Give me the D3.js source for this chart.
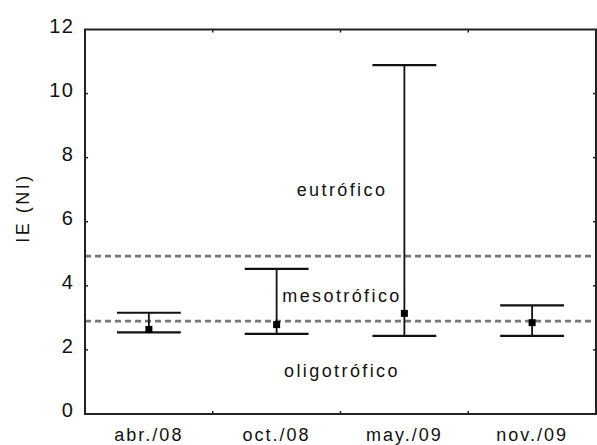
<!DOCTYPE html>
<html>
<head>
<meta charset="utf-8">
<script src="https://cdn.jsdelivr.net/npm/d3@7"></script>
<style>
  body { margin: 0; background: #fff; }
  svg text { font-family: "Liberation Sans", Arial, sans-serif; fill: #111; }
</style>
</head>
<body>
<svg id="chart" width="597" height="445"></svg>
<script>
// data
const categories = ['abr./08', 'oct./08', 'may./09', 'nov./09'];
const means = [2.64, 2.79, 3.14, 2.85];
const lows = [2.55, 2.50, 2.44, 2.44];
const highs = [3.16, 4.53, 10.89, 3.39];
const thresholds = [4.93, 2.90];
const yTicks = [0, 2, 4, 6, 8, 10, 12];
const zones = [
  { label: 'eutrófico', y: 6.8 },
  { label: 'mesotrófico', y: 3.5 },
  { label: 'oligotrófico', y: 1.15 }
];

const svg = d3.select('#chart');
const plotL = 85, plotR = 596, plotT = 29.5, plotB = 414;

const x = d3.scaleBand().domain(categories).range([plotL, plotR]).padding(0);
const y = d3.scaleLinear().domain([0, 12]).range([plotB, plotT]);

// thresholds (dashed)
svg.append('g').selectAll('line')
  .data(thresholds)
  .join('line')
  .attr('x1', plotL).attr('x2', plotR)
  .attr('y1', d => y(d)).attr('y2', d => y(d))
  .attr('stroke', '#777')
  .attr('stroke-width', 2.8)
  .attr('stroke-dasharray', '6,4');

// frame
svg.append('rect')
  .attr('x', plotL).attr('y', plotT)
  .attr('width', plotR - plotL).attr('height', plotB - plotT)
  .attr('fill', 'none').attr('stroke', '#222').attr('stroke-width', 2);

// small inward ticks
const yt = yTicks.slice(1, -1);
svg.append('g').selectAll('line').data(yt).join('line')
  .attr('x1', plotL).attr('x2', plotL + 3)
  .attr('y1', d => y(d)).attr('y2', d => y(d))
  .attr('stroke', '#222').attr('stroke-width', 1.5);
svg.append('g').selectAll('line').data(yt).join('line')
  .attr('x1', plotR).attr('x2', plotR - 3)
  .attr('y1', d => y(d)).attr('y2', d => y(d))
  .attr('stroke', '#222').attr('stroke-width', 1.5);
const xb = categories.slice(1).map(c => x(c));
svg.append('g').selectAll('line').data(xb).join('line')
  .attr('x1', d => d).attr('x2', d => d)
  .attr('y1', plotB).attr('y2', plotB - 3)
  .attr('stroke', '#222').attr('stroke-width', 1.5);
svg.append('g').selectAll('line').data(xb).join('line')
  .attr('x1', d => d).attr('x2', d => d)
  .attr('y1', plotT).attr('y2', plotT + 3)
  .attr('stroke', '#222').attr('stroke-width', 1.5);

// tick labels
svg.append('g').selectAll('text').data(yTicks).join('text')
  .attr('x', 74).attr('y', d => y(d) + 3)
  .attr('text-anchor', 'end')
  .attr('font-size', 20)
  .attr('letter-spacing', 1.2)
  .text(d => d);

svg.append('g').selectAll('text').data(categories).join('text')
  .attr('x', d => x(d) + x.bandwidth() / 2)
  .attr('y', 441)
  .attr('text-anchor', 'middle')
  .attr('font-size', 18)
  .attr('letter-spacing', 2)
  .text(d => d);

svg.append('text')
  .attr('transform', 'translate(29,208) rotate(-90)')
  .attr('text-anchor', 'middle')
  .attr('font-size', 18)
  .attr('letter-spacing', 2.5)
  .text('IE (NI)');

// zone labels
svg.append('g').selectAll('text').data(zones).join('text')
  .attr('x', 342).attr('y', d => y(d.y))
  .attr('text-anchor', 'middle')
  .attr('font-size', 18)
  .attr('letter-spacing', 2.4)
  .text(d => d.label);

// error bars
const bars = svg.append('g').selectAll('g').data(categories).join('g')
  .attr('transform', d => `translate(${x(d) + x.bandwidth() / 2},0)`);
const cap = x.bandwidth() / 4;
bars.append('line')
  .attr('y1', (d, i) => y(lows[i])).attr('y2', (d, i) => y(highs[i]))
  .attr('stroke', '#111').attr('stroke-width', 1.8);
bars.append('line')
  .attr('x1', -cap).attr('x2', cap)
  .attr('y1', (d, i) => y(highs[i])).attr('y2', (d, i) => y(highs[i]))
  .attr('stroke', '#111').attr('stroke-width', 2.2);
bars.append('line')
  .attr('x1', -cap).attr('x2', cap)
  .attr('y1', (d, i) => y(lows[i])).attr('y2', (d, i) => y(lows[i]))
  .attr('stroke', '#111').attr('stroke-width', 2.2);
bars.append('rect')
  .attr('x', -3.5).attr('width', 7).attr('height', 7)
  .attr('y', (d, i) => y(means[i]) - 3.5)
  .attr('fill', '#000');
</script>
</body>
</html>
